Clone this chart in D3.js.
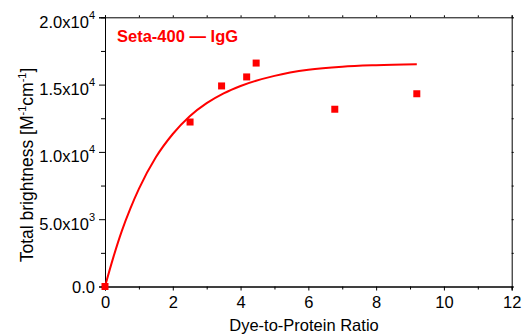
<!DOCTYPE html>
<html>
<head>
<meta charset="utf-8">
<script src="https://cdn.jsdelivr.net/npm/d3@7"></script>
<style>
  body { margin: 0; background: #fff; }
  text { font-family: "Liberation Sans", Arial, sans-serif; }
</style>
</head>
<body>
<div id="chart"></div>
<script>
// measured points
const ratio = [0, 2.51, 3.44, 4.18, 4.46, 6.78, 9.20];
const brightness = [0, 12220, 14900, 15570, 16600, 13170, 14320];

// fitted curve
const fitRatio = [0, 0.25, 0.5, 0.75, 1, 1.5, 2, 2.5, 3, 3.5, 4, 5, 6, 7, 8, 9.2];
const fitBrightness = [0, 2200, 4150, 5800, 7250, 9600, 11330, 12650, 13620, 14350, 14900, 15650, 16100, 16330, 16440, 16510];

const xTicks = [0, 2, 4, 6, 8, 10, 12];
const yTicks = [0, 5000, 10000, 15000, 20000];
const yTickMantissa = ['0.0', '5.0x10', '1.0x10', '1.5x10', '2.0x10'];
const yTickExponent = ['', '3', '4', '4', '4'];

const title = 'Seta-400 \u2014 IgG';
const red = '#ff0000';

const width = 527, height = 335;
const margin = { top: 17.3, right: 15.3, bottom: 48.5, left: 105 };

const svg = d3.select('#chart')
  .append('svg')
  .attr('width', width)
  .attr('height', height);

const x = d3.scaleLinear().domain([0, 12]).range([margin.left, width - margin.right]);
const y = d3.scaleLinear().domain([0, 20000]).range([height - margin.bottom, margin.top]);

// frame: top and right
svg.append('g')
  .attr('transform', `translate(0,${margin.top})`)
  .call(d3.axisTop(x).ticks(12).tickSize(2).tickFormat(''));
svg.append('g')
  .attr('transform', `translate(${width - margin.right},0)`)
  .call(d3.axisRight(y).tickValues(d3.range(0, 20001, 2500)).tickSize(2).tickFormat(''));

// minor ticks
svg.append('g')
  .attr('transform', `translate(0,${height - margin.bottom})`)
  .call(d3.axisBottom(x).tickValues(d3.range(1, 12, 2)).tickSize(3).tickFormat(''));
svg.append('g')
  .attr('transform', `translate(${margin.left},0)`)
  .call(d3.axisLeft(y).tickValues(d3.range(2500, 20000, 5000)).tickSize(4).tickFormat(''));

// bottom axis
const xAxis = svg.append('g')
  .attr('transform', `translate(0,${height - margin.bottom})`)
  .call(d3.axisBottom(x).tickValues(xTicks).tickSize(4).tickPadding(6).tickFormat(d3.format('d')));
xAxis.selectAll('text').attr('font-size', '16.5px').attr('fill', '#000');

// left axis with superscript labels
const yAxis = svg.append('g')
  .attr('transform', `translate(${margin.left},0)`)
  .call(d3.axisLeft(y).tickValues(yTicks).tickSize(6).tickFormat(''));

yAxis.selectAll('.tick').each(function(d, i) {
  const t = d3.select(this).append('text')
    .attr('x', -10)
    .attr('dy', i === 0 ? 5.5 : 10)
    .attr('text-anchor', 'end')
    .attr('font-size', '16.5px')
    .attr('fill', '#000');
  t.append('tspan').text(yTickMantissa[i]);
  if (yTickExponent[i]) {
    t.append('tspan')
      .attr('dy', -9)
      .attr('font-size', '11px')
      .text(yTickExponent[i]);
  }
});

svg.selectAll('.domain').attr('stroke', '#000');
svg.selectAll('.tick line').attr('stroke', '#000');

// axis titles
svg.append('text')
  .attr('x', 304)
  .attr('y', 331)
  .attr('text-anchor', 'middle')
  .attr('font-size', '16.5px')
  .text('Dye-to-Protein Ratio');

const yTitle = svg.append('text')
  .attr('transform', 'translate(33,165) rotate(-90)')
  .attr('text-anchor', 'middle')
  .attr('font-size', '17.5px');
yTitle.append('tspan').text('Total brightness [M');
yTitle.append('tspan').attr('dy', -7).attr('font-size', '11px').text('-1');
yTitle.append('tspan').attr('dy', 7).text('cm');
yTitle.append('tspan').attr('dy', -7).attr('font-size', '11px').text('-1');
yTitle.append('tspan').attr('dy', 7).text(']');

// fit curve
const fit = fitRatio.map((r, i) => ({ r: r, b: fitBrightness[i] }));
svg.append('path')
  .datum(fit)
  .attr('fill', 'none')
  .attr('stroke', red)
  .attr('stroke-width', 2)
  .attr('d', d3.line().x(d => x(d.r)).y(d => y(d.b)).curve(d3.curveMonotoneX));

// data points
const pts = ratio.map((r, i) => ({ r: r, b: brightness[i] }));
const s = 7;
svg.selectAll('.pt')
  .data(pts)
  .enter()
  .append('rect')
  .attr('class', 'pt')
  .attr('x', d => x(d.r) - s / 2)
  .attr('y', d => y(d.b) - s / 2)
  .attr('width', s)
  .attr('height', s)
  .attr('fill', red);

// title
svg.append('text')
  .attr('x', 117)
  .attr('y', 41.7)
  .attr('font-size', '16.5px')
  .attr('font-weight', 'bold')
  .attr('fill', red)
  .text(title);
</script>
</body>
</html>
